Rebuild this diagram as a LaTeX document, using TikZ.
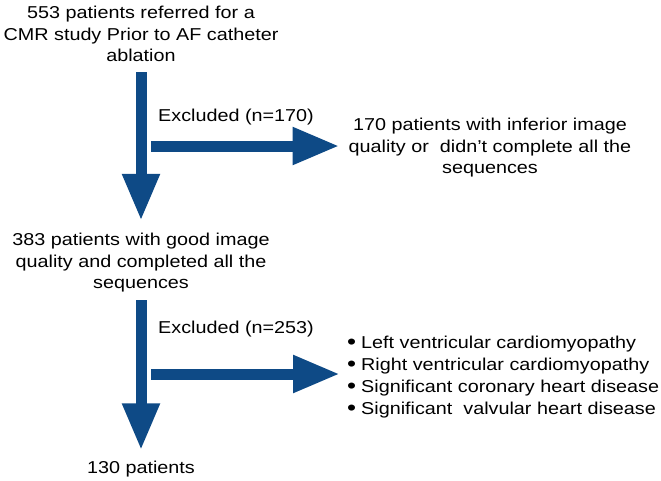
\documentclass[tikz,border=0pt]{standalone}
\usepackage{fontspec}
\setmainfont{Liberation Sans}[FakeStretch=1.15]
\usepackage{tikz}
\usetikzlibrary{arrows.meta,calc}

\definecolor{flowblue}{RGB}{14,74,134}

\newcommand{\bul}{\raisebox{-1pt}{\scalebox{1.3}{\textbullet}}\hspace{5pt}}

\tikzset{
  txt/.style={inner sep=0pt, align=center, anchor=base,
    font=\fontsize{17.2}{21.5}\selectfont},
  lst/.style={inner sep=0pt, align=left, anchor=base west,
    font=\fontsize{17.2}{22}\selectfont},
  bigarrow/.style={draw=flowblue, line width=11pt,
    -{Triangle[length=47pt,width=35pt]}}
}

\begin{document}
\begin{tikzpicture}[x=1pt,y=-1pt]
	\useasboundingbox (0,0) rectangle (661,480);

	% boxes of text (anchored at the baseline of their last line)
	\node[txt] (n553) at (141,61.5) {553 patients referred for a\\CMR study Prior to AF catheter\\ablation};
	\node[txt] (n383) at (141,288.5) {383 patients with good image\\quality and completed all the\\sequences};
	\node[txt] (n130) at (141,473) {130 patients};

	\node[txt] (n170) at (490,173.5) {170 patients with inferior image\\quality or~ didn't complete all the\\sequences};
	\node[lst] (crit) at (347,414) {\bul Left ventricular cardiomyopathy\\\bul Right ventricular cardiomyopathy\\\bul Significant coronary heart disease\\\bul Significant~ valvular heart disease};

	\node[txt] (ex1) at (236,121.5) {Excluded (n=170)};
	\node[txt] (ex2) at (236,333) {Excluded (n=253)};

	% arrows
	\coordinate (h1) at (151,146);
	\coordinate (h2) at (151,374);

	\draw[bigarrow, shorten <=10.5pt, shorten >=12pt] (n553.south) -- (n383.north);
	\draw[bigarrow, shorten <=8pt, shorten >=10pt] (n383.south) -- (n130.north);
	\draw[bigarrow, shorten >=9pt] (h1) -- (h1 -| n170.west);
	\draw[bigarrow, shorten >=7pt] (h2) -- (h2 -| crit.west);

\end{tikzpicture}
\end{document}
